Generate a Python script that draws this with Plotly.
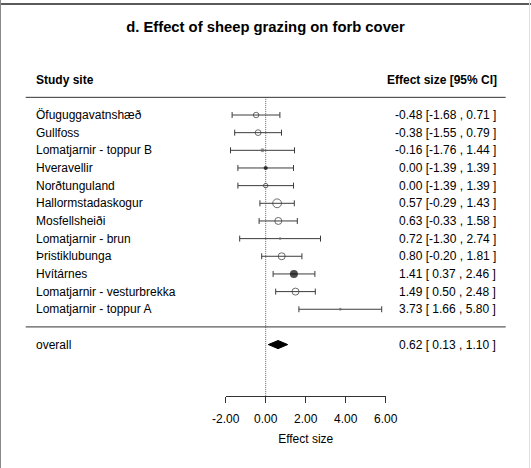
import plotly.graph_objects as go

# ---------------- data ----------------
sites = ["Öfuguggavatnshæð", "Gullfoss", "Lomatjarnir - toppur B", "Hveravellir",
         "Norðtunguland", "Hallormstadaskogur", "Mosfellsheiði", "Lomatjarnir - brun",
         "Þristiklubunga", "Hvítárnes", "Lomatjarnir - vesturbrekka", "Lomatjarnir - toppur A"]
estimate = [-0.48, -0.38, -0.16, 0.00, 0.00, 0.57, 0.63, 0.72, 0.80, 1.41, 1.49, 3.73]
ci_low = [-1.68, -1.55, -1.76, -1.39, -1.39, -0.29, -0.33, -1.30, -0.20, 0.37, 0.50, 1.66]
ci_high = [0.71, 0.79, 1.44, 1.39, 1.39, 1.43, 1.58, 2.74, 1.81, 2.46, 2.48, 5.80]
overall_label = "overall"
overall_est, overall_low, overall_high = 0.62, 0.13, 1.10
tick_values = [-2, 0, 2, 4, 6]

title = "d. Effect of sheep grazing on forb cover"
left_header = "Study site"
right_header = "Effect size [95% CI]"
x_title = "Effect size"

# ---------------- styles ----------------
marker_size = [5.5, 5.8, 4, 4.2, 4.5, 8.8, 7, 2.6, 7, 8, 7, 2.8]
marker_kind = ["open", "open", "grey", "black", "open", "open", "open", "grey",
               "open", "black", "open", "grey"]
kind_style = {
    "open": dict(symbol="circle-open", color="#333333", line=dict(width=1, color="#333333")),
    "black": dict(symbol="circle", color="#000000", line=dict(width=0)),
    "grey": dict(symbol="circle", color="#666666", line=dict(width=0)),
}

FONT = "Liberation Sans, Arial, sans-serif"
W, H = 531, 468
XR = [-13.285, 13.265]
YR = [-7.989, 18.512]
XLIM = 12.0
TEXT_X = 11.6
AXIS_ROW = -3.92

n = len(sites)
rows = list(range(n, 0, -1))
overall_row = -1
header_row = n + 2

fig = go.Figure()

for kind, style in kind_style.items():
    idx = [i for i, k in enumerate(marker_kind) if k == kind]
    fig.add_trace(go.Scatter(
        x=[estimate[i] for i in idx], y=[rows[i] for i in idx], mode="markers",
        error_x=dict(type="data", symmetric=False,
                     array=[ci_high[i] - estimate[i] for i in idx],
                     arrayminus=[estimate[i] - ci_low[i] for i in idx],
                     color="#3c3c3c", thickness=1, width=3),
        marker=dict(size=[marker_size[i] for i in idx], **style),
        hoverinfo="skip", showlegend=False, xaxis="x", yaxis="y"))

dh = 0.23
fig.add_trace(go.Scatter(
    x=[overall_low, overall_est, overall_high, overall_est, overall_low],
    y=[overall_row, overall_row + dh, overall_row, overall_row - dh, overall_row],
    mode="lines", fill="toself", fillcolor="#000000",
    line=dict(color="#000000", width=1), hoverinfo="skip", showlegend=False,
    xaxis="x", yaxis="y"))

# invisible trace that carries the bottom axis
fig.add_trace(go.Scatter(x=[tick_values[0], tick_values[-1]], y=[AXIS_ROW, AXIS_ROW],
                         mode="markers", marker=dict(opacity=0, size=1),
                         xaxis="x2", yaxis="y", hoverinfo="skip", showlegend=False))

shapes = []
shapes.append(dict(type="line", xref="x", yref="y", x0=0, x1=0,
                   y0=AXIS_ROW, y1=n + 1, layer="below",
                   line=dict(color="#666666", width=1, dash="1px,1px")))
for yy in (n + 1, 0):
    shapes.append(dict(type="line", xref="x", yref="y", x0=-XLIM, x1=XLIM,
                       y0=yy, y1=yy, line=dict(color="#333333", width=1)))
shapes.append(dict(type="line", xref="paper", yref="paper", x0=0, x1=1,
                   y0=1 - 4 / H, y1=1 - 4 / H, line=dict(color="#5a5a5a", width=2)))
shapes.append(dict(type="line", xref="paper", yref="paper", x0=0.5 / W, x1=0.5 / W,
                   y0=0, y1=1, line=dict(color="#8a8a8a", width=1)))
shapes.append(dict(type="line", xref="paper", yref="paper", x0=1 - 1.5 / W, x1=1 - 1.5 / W,
                   y0=0, y1=1, line=dict(color="#e0e0e0", width=1)))

ann = []
def txt(x, y, s, anchor, bold=False, size=12):
    ann.append(dict(x=x, y=y, xref="x", yref="y", text=f"<b>{s}</b>" if bold else s,
                    showarrow=False, xanchor=anchor, yanchor="middle",
                    font=dict(family=FONT, size=size, color="#000000")))

def ci_text(e, l, h):
    s = f"{e:.2f} [{l:5.2f} , {h:.2f} ]"
    return s.replace("[ ", "[&nbsp;")

for name, r in zip(sites, rows):
    txt(-TEXT_X, r, name, "left")
for e, l, h, r in zip(estimate, ci_low, ci_high, rows):
    txt(TEXT_X, r, ci_text(e, l, h), "right")
txt(-TEXT_X, overall_row, overall_label, "left")
txt(TEXT_X, overall_row, ci_text(overall_est, overall_low, overall_high), "right")
txt(-TEXT_X, header_row, left_header, "left", bold=True)
txt(TEXT_X + 0.05, header_row, right_header, "right", bold=True)

dom0 = (tick_values[0] - XR[0]) / (XR[1] - XR[0])
dom1 = (tick_values[-1] - XR[0]) / (XR[1] - XR[0])
axis_pos = (AXIS_ROW - YR[0]) / (YR[1] - YR[0])

fig.update_layout(
    template="none",
    width=W, height=H, autosize=False,
    margin=dict(l=0, r=0, t=0, b=0, pad=0),
    paper_bgcolor="white", plot_bgcolor="rgba(0,0,0,0)",
    title=dict(text=f"<b>{title}</b>", x=0.5, xanchor="center",
               y=1 - 27 / H, yanchor="middle",
               font=dict(family=FONT, size=14.8, color="#000000")),
    xaxis=dict(range=XR, domain=[0, 1], visible=False, fixedrange=True, automargin=False),
    yaxis=dict(range=YR, domain=[0, 1], visible=False, fixedrange=True, automargin=False),
    xaxis2=dict(range=[tick_values[0], tick_values[-1]], domain=[dom0, dom1],
                anchor="free", position=axis_pos, automargin=False, fixedrange=True,
                tickvals=tick_values, ticktext=[f"{v:.2f}" for v in tick_values],
                showline=True, linecolor="#333333", linewidth=1,
                ticks="outside", ticklen=6, tickwidth=1, tickcolor="#333333",
                ticklabelstandoff=5,
                showgrid=False, zeroline=False,
                tickfont=dict(family=FONT, size=12, color="#000000"),
                title=dict(text=x_title, standoff=10,
                           font=dict(family=FONT, size=12, color="#000000"))),
    shapes=shapes, annotations=ann, showlegend=False,
)

fig.write_html("out.html", config={"displayModeBar": False, "staticPlot": True},
               post_script="document.body.style.margin='0';document.body.style.padding='0';")
